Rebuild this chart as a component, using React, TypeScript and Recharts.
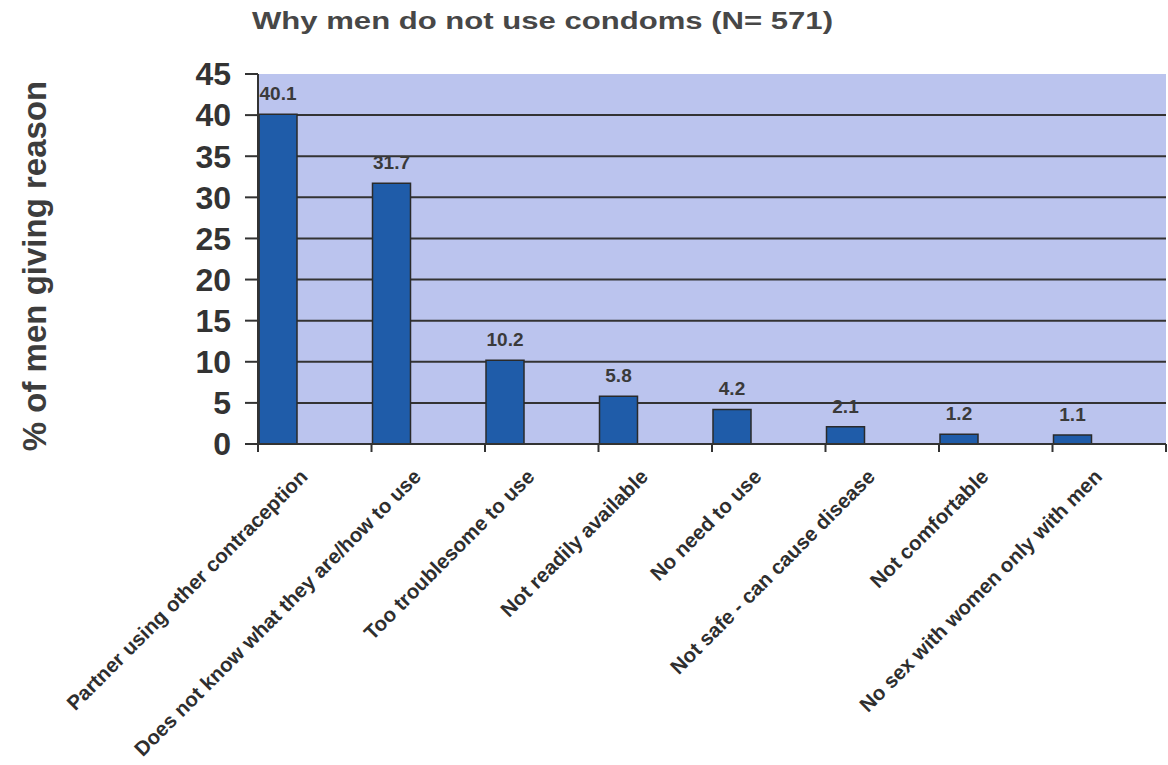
import React from "react";
import {
  BarChart,
  Bar,
  XAxis,
  YAxis,
  CartesianGrid,
  LabelList,
} from "recharts";

// reasons given (x axis) and share of men giving each one
const REASONS = [
  "Partner using other contraception",
  "Does not know what they are/how to use",
  "Too troublesome to use",
  "Not readily available",
  "No need to use",
  "Not safe - can cause disease",
  "Not comfortable",
  "No sex with women only with men",
];
const PERCENTS = [40.1, 31.7, 10.2, 5.8, 4.2, 2.1, 1.2, 1.1];
const Y_TICKS = [0, 5, 10, 15, 20, 25, 30, 35, 40, 45];
const GRID_VALUES = [5, 10, 15, 20, 25, 30, 35, 40];

const data = REASONS.map((reason, i) => ({ reason, pct: PERCENTS[i] }));

const W = 1168;
const H = 765;
const MARGIN = { top: 74, right: 2, bottom: 0, left: 188 };
const Y_AXIS_W = 70;
const PLOT_W = W - MARGIN.left - MARGIN.right - Y_AXIS_W;
const BAND = PLOT_W / REASONS.length;

const FONT = '"Liberation Sans", Arial, sans-serif';
const INK = "#333333";

// ticks sit on the category boundaries, labels are slanted under the centre
const XTick = (props: any) => {
  const { x, y, payload, index } = props;
  const left = x - BAND / 2;
  const ax = x - 6;
  const ay = y + 34;
  return (
    <g>
      <line x1={left} y1={y} x2={left} y2={y + 8} stroke={INK} strokeWidth={2} />
      {index === REASONS.length - 1 && (
        <line x1={x + BAND / 2} y1={y} x2={x + BAND / 2} y2={y + 8} stroke={INK} strokeWidth={2} />
      )}
      <text
        x={ax}
        y={ay}
        textAnchor="end"
        transform={`rotate(-45, ${ax}, ${ay})`}
        fontSize={20.5}
        fontWeight="bold"
        fontFamily={FONT}
        fill="#2e2e2e"
      >
        {payload.value}
      </text>
    </g>
  );
};

export default function App() {
  return (
    <div style={{ position: "absolute", left: 0, top: 0, width: W, height: H, background: "#fff" }}>
      <BarChart width={W} height={H} data={data} margin={MARGIN} barGap={36}>
        <CartesianGrid
          vertical={false}
          horizontalValues={GRID_VALUES}
          stroke={INK}
          strokeWidth={2}
          fill="#bbc4ee"
          fillOpacity={1}
        />
        <XAxis
          dataKey="reason"
          height={H - MARGIN.top - 370}
          interval={0}
          tickLine={false}
          tickSize={0}
          tickMargin={0}
          axisLine={{ stroke: INK, strokeWidth: 2 }}
          tick={<XTick />}
        />
        <YAxis
          width={Y_AXIS_W}
          domain={[0, 45]}
          ticks={Y_TICKS}
          interval={0}
          tickSize={13}
          tickMargin={14}
          tickLine={{ stroke: INK, strokeWidth: 2 }}
          axisLine={{ stroke: INK, strokeWidth: 2 }}
          tick={{ fill: INK, fontSize: 32, fontWeight: "bold", fontFamily: FONT }}
        />
        <Bar
          dataKey="pct"
          fill="#1f5ca9"
          stroke="#2a2a2a"
          strokeWidth={1.5}
          barSize={38}
          isAnimationActive={false}
        >
          <LabelList
            dataKey="pct"
            position="top"
            offset={14}
            fill="#3a3a3a"
            fontSize={19}
            fontWeight="bold"
            fontFamily={FONT}
          />
        </Bar>
        <Bar dataKey="spacer" fill="none" stroke="none" barSize={38} isAnimationActive={false} />
      </BarChart>
      <svg
        width={W}
        height={H}
        style={{ position: "absolute", left: 0, top: 0, pointerEvents: "none" }}
      >
        <text
          x={252}
          y={29}
          fontSize={23}
          fontWeight="bold"
          fontFamily={FONT}
          fill="#474747"
          textLength={581}
          lengthAdjust="spacingAndGlyphs"
        >
          Why men do not use condoms (N= 571)
        </text>
        <text
          x={46}
          y={266}
          transform="rotate(-90, 46, 266)"
          textAnchor="middle"
          fontSize={33}
          fontWeight="bold"
          fontFamily={FONT}
          fill="#3d3d3d"
        >
          % of men giving reason
        </text>
      </svg>
    </div>
  );
}
